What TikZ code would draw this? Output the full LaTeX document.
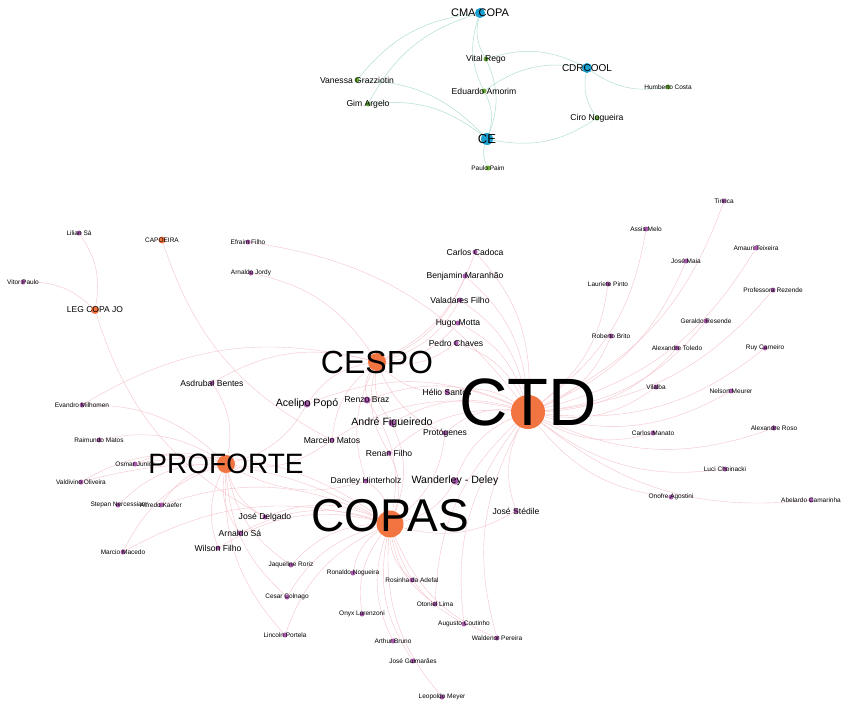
\documentclass[tikz,border=0pt]{standalone}
\usepackage{fontspec}
\setmainfont{Liberation Sans}
\usetikzlibrary{backgrounds}

\definecolor{huborange}{RGB}{242,116,64}
\definecolor{deppurple}{RGB}{172,92,176}
\definecolor{hubblue}{RGB}{28,160,208}
\definecolor{sengreen}{RGB}{108,172,58}
\definecolor{edgepink}{RGB}{246,196,204}
\definecolor{edgeteal}{RGB}{178,222,214}

\begin{document}
\begin{tikzpicture}[x=1pt,y=-1pt,
    hub/.style={circle,fill=huborange,inner sep=0pt,minimum size=#1},
    com/.style={circle,fill=hubblue,inner sep=0pt,minimum size=#1},
    sen/.style={circle,fill=sengreen,inner sep=0pt,minimum size=5},
    dep/.style={circle,fill=deppurple,inner sep=0pt,minimum size=#1},
    dep/.default=5,
    tiny/.style={font=\fontsize{6.5}{7}\selectfont},
    mid/.style={font=\fontsize{8.6}{9}\selectfont},
    big/.style={font=\fontsize{10.6}{11}\selectfont},
    link/.style={draw=edgepink,line width=0.4pt,bend right=22},
    tlink/.style={draw=edgeteal,line width=0.5pt,bend right=22}
  ]
  \useasboundingbox (0,0) rectangle (842,701);

  % senate cluster
  \node[com=10,label={[font=\fontsize{11}{12}\selectfont]center:CMA COPA}] (cma) at (480,13) {};
  \node[com=10,label={[font=\fontsize{10}{11}\selectfont]center:CDRCOOL}] (cdr) at (587,68) {};
  \node[com=12,label={[font=\fontsize{13}{14}\selectfont]center:CE}] (ce) at (487,139) {};
  \node[sen,label={[mid]center:Vital Rego}] (vital) at (486,59) {};
  \node[sen,label={[mid]center:Vanessa Grazziotin}] (vanessa) at (357,80) {};
  \node[sen,label={[mid]center:Eduardo Amorim}] (eduardo) at (484,91) {};
  \node[sen,label={[mid]center:Gim Argelo}] (gim) at (368,104) {};
  \node[sen,label={[tiny]center:Humberto Costa}] (humberto) at (668,87) {};
  \node[sen,label={[mid]center:Ciro Nogueira}] (ciro) at (597,118) {};
  \node[sen,label={[tiny]center:Paulo Paim}] (paulo) at (488,168) {};

  % left side
  \node[dep,label={[tiny]center:Lilian Sá}] (lilian) at (79,233) {};
  \node[dep,label={[tiny]center:Vitor Paulo}] (vitor) at (23,282) {};
  \node[hub=7,label={[tiny]center:CAPOEIRA}] (capoeira) at (162,240) {};
  \node[hub=8,label={[font=\fontsize{8.5}{9}\selectfont]center:LEG COPA JO}] (legcopa) at (95,310) {};
  \node[dep,label={[tiny]center:Efraim Filho}] (efraim) at (248,242) {};
  \node[dep,label={[tiny]center:Arnaldo Jordy}] (arnaldoj) at (251,273) {};
  \node[dep,label={[mid]center:Asdrubal Bentes}] (asdrubal) at (212,383) {};
  \node[dep,label={[tiny]center:Evandro Milhomen}] (evandro) at (82,405) {};
  \node[dep,label={[tiny]center:Raimundo Matos}] (raimundo) at (99,440) {};
  \node[dep,label={[tiny]center:Osmar Junior}] (osmar) at (135,464) {};
  \node[dep,label={[tiny]center:Valdivino Oliveira}] (valdivino) at (81,482) {};
  \node[dep,label={[tiny]center:Stepan Nercessian}] (stepan) at (118,505) {};
  \node[dep,label={[tiny]center:Alfredo Kaefer}] (alfredo) at (161,505) {};
  \node[dep,label={[tiny]center:Marcio Macedo}] (marcio) at (123,552) {};
  \node[dep,label={[mid]center:José Delgado}] (delgado) at (265,517) {};
  \node[dep,label={[mid]center:Arnaldo Sá}] (arnaldosa) at (240,533) {};
  \node[dep,label={[mid]center:Wilson Filho}] (wilson) at (218,548) {};

  % middle
  \node[dep,label={[mid]center:Carlos Cadoca}] (cadoca) at (475,252) {};
  \node[dep,label={[mid]center:Benjamin Maranhão}] (benjamin) at (465,276) {};
  \node[dep,label={[mid]center:Valadares Filho}] (valadares) at (460,300) {};
  \node[dep,label={[mid]center:Hugo Motta}] (hugo) at (458,323) {};
  \node[dep,label={[mid]center:Pedro Chaves}] (pedro) at (456,343) {};
  \node[dep,label={[mid]center:Hélio Santos}] (helio) at (447,392) {};
  \node[dep=7,label={[mid]center:Renzo Braz}] (renzo) at (367,400) {};
  \node[dep=7,label={[big]center:Acelipo Popó}] (acelipo) at (307,404) {};
  \node[dep=7,label={[big]center:André Figueiredo}] (andre) at (392,423) {};
  \node[dep,label={[mid]center:Protógenes}] (protogenes) at (445,433) {};
  \node[dep,label={[mid]center:Marcelo Matos}] (marcelo) at (332,440) {};
  \node[dep,label={[mid]center:Renan Filho}] (renan) at (389,453) {};
  \node[dep,label={[mid]center:Danrley Hinterholz}] (danrley) at (366,481) {};
  \node[dep=7,label={[big]center:Wanderley - Deley}] (wanderley) at (455,481) {};
  \node[dep,label={[mid]center:José Stédile}] (stedile) at (516,511) {};

  % right side
  \node[dep,label={[tiny]center:Tiririca}] (tiririca) at (724,201) {};
  \node[dep,label={[tiny]center:Assis Melo}] (assis) at (646,229) {};
  \node[dep,label={[tiny]center:Amauri Teixeira}] (amauri) at (756,248) {};
  \node[dep,label={[tiny]center:José Maia}] (josemaia) at (686,261) {};
  \node[dep,label={[tiny]center:Lauriete Pinto}] (lauriete) at (608,284) {};
  \node[dep,label={[tiny]center:Professora Rezende}] (professora) at (773,290) {};
  \node[dep,label={[tiny]center:Geraldo Resende}] (geraldo) at (706,321) {};
  \node[dep,label={[tiny]center:Roberto Brito}] (roberto) at (611,336) {};
  \node[dep,label={[tiny]center:Alexandre Toledo}] (toledo) at (677,348) {};
  \node[dep,label={[tiny]center:Ruy Carneiro}] (ruy) at (765,348) {};
  \node[dep,label={[tiny]center:Vilalba}] (vilalba) at (656,387) {};
  \node[dep,label={[tiny]center:Nelson Meurer}] (nelson) at (731,391) {};
  \node[dep,label={[tiny]center:Alexandre Roso}] (roso) at (774,428) {};
  \node[dep,label={[tiny]center:Carlos Manato}] (manato) at (653,433) {};
  \node[dep,label={[tiny]center:Luci Choinacki}] (luci) at (725,469) {};
  \node[dep,label={[tiny]center:Onofre Agostini}] (onofre) at (671,497) {};
  \node[dep,label={[tiny]center:Abelardo Camarinha}] (abelardo) at (811,500) {};

  % bottom
  \node[dep,label={[tiny]center:Jaqueline Roriz}] (jaqueline) at (291,565) {};
  \node[dep,label={[tiny]center:Ronaldo Nogueira}] (ronaldo) at (353,573) {};
  \node[dep,label={[tiny]center:Rosinha da Adefal}] (rosinha) at (412,580) {};
  \node[dep,label={[tiny]center:Cesar Colnago}] (cesar) at (287,597) {};
  \node[dep,label={[tiny]center:Otoniel Lima}] (otoniel) at (435,604) {};
  \node[dep,label={[tiny]center:Onyx Lorenzoni}] (onyx) at (362,614) {};
  \node[dep,label={[tiny]center:Augusto Coutinho}] (augusto) at (464,624) {};
  \node[dep,label={[tiny]center:Waldenor Pereira}] (waldenor) at (497,638) {};
  \node[dep,label={[tiny]center:Lincoln Portela}] (lincoln) at (285,635) {};
  \node[dep,label={[tiny]center:Arthur Bruno}] (arthur) at (393,641) {};
  \node[dep,label={[tiny]center:José Guimarães}] (guimaraes) at (413,661) {};
  \node[dep,label={[tiny]center:Leopoldo Meyer}] (leopoldo) at (442,697) {};

  % big committees
  \node[hub=18,label={[font=\fontsize{28}{30}\selectfont]center:PROFORTE}] (proforte) at (226,464) {};
  \node[hub=18,label={[font=\fontsize{32}{34}\selectfont]center:CESPO}] (cespo) at (377,362) {};
  \node[hub=27,label={[font=\fontsize{46}{48}\selectfont,yshift=8pt]center:COPAS}] (copas) at (390,524) {};
  \node[hub=34,label={[font=\fontsize{67}{70}\selectfont,yshift=10pt]center:CTD}] (ctd) at (528,412) {};

  \begin{scope}[on background layer]
    \fill[white] (0,0) rectangle (842,701);
    \foreach \l in {vanessa,gim,eduardo,vital}
      \draw[tlink] (cma) to (\l);
    \foreach \l in {vanessa,gim,eduardo,vital,ciro,paulo}
      \draw[tlink] (ce) to (\l);
    \foreach \l in {vital,eduardo,humberto,ciro}
      \draw[tlink] (cdr) to (\l);

    \foreach \l in {tiririca,assis,amauri,josemaia,lauriete,professora,geraldo,roberto,toledo,ruy,vilalba,nelson,roso,manato,luci,onofre,abelardo,cadoca,benjamin,valadares,hugo,pedro,helio,renzo,acelipo,andre,protogenes,marcelo,renan,wanderley,stedile,efraim,augusto,waldenor,otoniel}
      \draw[link] (ctd) to (\l);
    \foreach \l in {cadoca,benjamin,valadares,hugo,pedro,helio,renzo,acelipo,andre,protogenes,marcelo,renan,danrley,asdrubal,evandro,arnaldoj}
      \draw[link] (cespo) to (\l);
    \foreach \l in {renzo,andre,protogenes,renan,danrley,wanderley,stedile,osmar,valdivino,alfredo,marcio,delgado,arnaldosa,wilson,jaqueline,ronaldo,rosinha,cesar,otoniel,onyx,augusto,waldenor,lincoln,arthur,guimaraes,leopoldo}
      \draw[link] (copas) to (\l);
    \foreach \l in {acelipo,marcelo,danrley,asdrubal,evandro,raimundo,osmar,valdivino,stepan,alfredo,marcio,delgado,arnaldosa,wilson,jaqueline,cesar,lincoln}
      \draw[link] (proforte) to (\l);
    \foreach \l in {lilian,vitor,delgado}
      \draw[link] (legcopa) to (\l);
    \draw[link] (capoeira) to (marcelo);
  \end{scope}
\end{tikzpicture}
\end{document}
